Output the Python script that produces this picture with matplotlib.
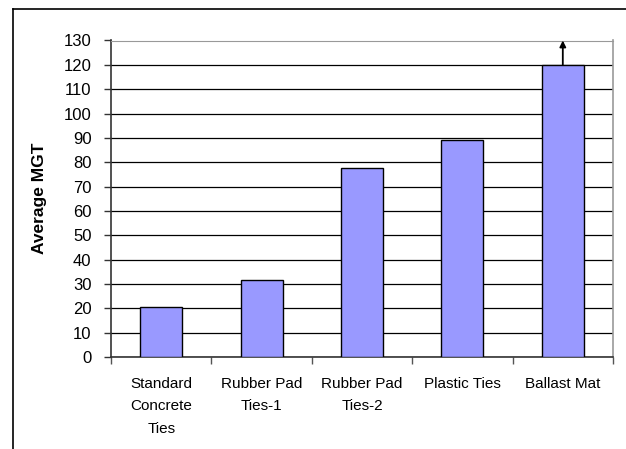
import matplotlib
matplotlib.use("Agg")
import matplotlib.pyplot as plt
from matplotlib.lines import Line2D

plt.rcParams['font.family'] = ['Liberation Sans', 'DejaVu Sans']

categories = ["Standard\nConcrete\nTies", "Rubber Pad\nTies-1", "Rubber Pad\nTies-2", "Plastic Ties", "Ballast Mat"]
values = [20.5, 31.5, 77.5, 89, 120]
arrow_from = 120
arrow_to = 130
yticks = list(range(0, 131, 10))

fig = plt.figure(figsize=(6.26, 4.49), dpi=100)
ax = fig.add_axes([111/626, 1-357/449, (613-111)/626, (357-40.5)/449])

x = list(range(len(categories)))
ax.bar(x, values, width=0.42, color="#9999FF", edgecolor="black", linewidth=1.0, zorder=3)
ax.annotate("", xy=(x[-1], arrow_to), xytext=(x[-1], arrow_from),
            arrowprops=dict(arrowstyle="-|>", color="black", lw=1.3, mutation_scale=9,
                            shrinkA=0, shrinkB=0), zorder=4, annotation_clip=False)

ax.set_xlim(-0.5, len(categories) - 0.5)
ax.set_ylim(0, 130)
ax.set_yticks(yticks)
ax.set_yticklabels([str(t) for t in yticks], fontsize=12)
ax.yaxis.grid(True, color="black", linewidth=0.9, zorder=0)
ax.set_axisbelow(True)

ax.set_xticks([i + 0.5 for i in range(-1, len(categories))])
ax.set_xticklabels([])
ax.tick_params(axis="x", direction="out", length=5, width=1, color="#555555")
ax.tick_params(axis="y", direction="out", length=5, width=1, color="#333333", pad=9)
for i, c in enumerate(categories):
    ax.text(i, -8.3, c, ha="center", va="top", fontsize=11, linespacing=1.75)

ax.spines["left"].set_color("#333333")
ax.spines["left"].set_linewidth(1.2)
ax.spines["bottom"].set_color("#333333")
ax.spines["bottom"].set_linewidth(1.2)
ax.spines["top"].set_color("#999999")
ax.spines["right"].set_color("#999999")
ax.spines["right"].set_linewidth(1.2)

ax.set_ylabel("Average MGT", fontsize=12.5, fontweight="bold", labelpad=12)

fig.add_artist(Line2D([13/626, 1.0], [1-9/449, 1-9/449], transform=fig.transFigure, color="black", lw=1.2))
fig.add_artist(Line2D([13/626, 13/626], [0.0, 1-9/449], transform=fig.transFigure, color="black", lw=1.2))

fig.savefig("out.png", dpi=100)
